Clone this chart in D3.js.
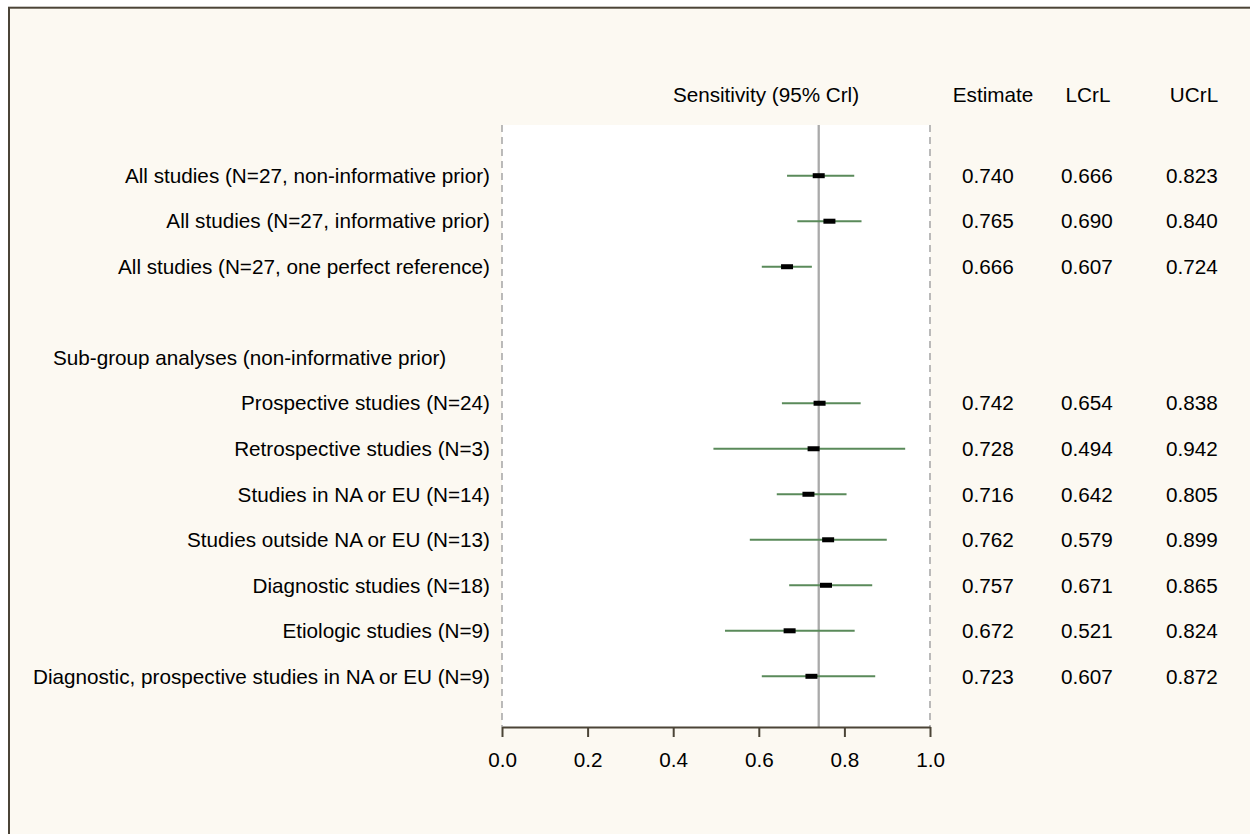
<!DOCTYPE html>
<html>
<head>
<meta charset="utf-8">
<script src="https://cdn.jsdelivr.net/npm/d3@7"></script>
<style>
  body { margin: 0; background: #ffffff; }
  svg { display: block; font-family: "Liberation Sans", Arial, sans-serif; }
</style>
</head>
<body>
<div id="chart"></div>
<script>
// study groups, top to bottom (row index = position in the forest plot)
const labels = [
  "All studies (N=27, non-informative prior)",
  "All studies (N=27, informative prior)",
  "All studies (N=27, one perfect reference)",
  "Prospective studies (N=24)",
  "Retrospective studies (N=3)",
  "Studies in NA or EU (N=14)",
  "Studies outside NA or EU (N=13)",
  "Diagnostic studies (N=18)",
  "Etiologic studies (N=9)",
  "Diagnostic, prospective studies in NA or EU (N=9)"
];
const rows = [0, 1, 2, 5, 6, 7, 8, 9, 10, 11];
const estimate = [0.740, 0.765, 0.666, 0.742, 0.728, 0.716, 0.762, 0.757, 0.672, 0.723];
const lcrl = [0.666, 0.690, 0.607, 0.654, 0.494, 0.642, 0.579, 0.671, 0.521, 0.607];
const ucrl = [0.823, 0.840, 0.724, 0.838, 0.942, 0.805, 0.899, 0.865, 0.824, 0.872];
const subgroupTitle = { row: 4, text: "Sub-group analyses (non-informative prior)" };
const xTicks = [0, 0.2, 0.4, 0.6, 0.8, 1.0];
const refValue = 0.740;
const colHeaders = ["Estimate", "LCrL", "UCrL"];

const W = 1250, H = 834;
const plot = { left: 502, right: 930, top: 125, bottom: 727 };
const fs = 20.7;

const svg = d3.select("#chart").append("svg")
  .attr("width", W).attr("height", H);

// outer frame
svg.append("rect")
  .attr("x", 9).attr("y", 7.7)
  .attr("width", W + 20).attr("height", H + 20)
  .attr("fill", "#fcf9f2")
  .attr("stroke", "#4b4437").attr("stroke-width", 2);

const x = d3.scaleLinear().domain([0, 1]).range([plot.left, plot.right]);
const y = d3.scaleLinear().domain([0, 11]).range([175.7, 676.3]);

// plot region
svg.append("rect")
  .attr("x", plot.left).attr("y", plot.top)
  .attr("width", plot.right - plot.left).attr("height", plot.bottom - plot.top)
  .attr("fill", "#ffffff");

// dashed bounds at 0 and 1
svg.selectAll(".bound").data([0, 1]).join("line")
  .attr("class", "bound")
  .attr("x1", d => x(d)).attr("x2", d => x(d))
  .attr("y1", plot.top).attr("y2", plot.bottom)
  .attr("stroke", "#aaaaaa").attr("stroke-width", 1.6)
  .attr("stroke-dasharray", "7,5");

// reference line at pooled estimate
svg.append("line")
  .attr("x1", x(refValue)).attr("x2", x(refValue))
  .attr("y1", plot.top).attr("y2", plot.bottom)
  .attr("stroke", "#aaaaaa").attr("stroke-width", 2.3);

const data = labels.map((l, i) => ({
  label: l, row: rows[i], est: estimate[i], lo: lcrl[i], hi: ucrl[i]
}));

// credible intervals
svg.selectAll(".ci").data(data).join("line")
  .attr("class", "ci")
  .attr("x1", d => x(d.lo)).attr("x2", d => x(d.hi))
  .attr("y1", d => y(d.row)).attr("y2", d => y(d.row))
  .attr("stroke", "#5a8a5a").attr("stroke-width", 2);

// point estimates
const bw = 12, bh = 5;
svg.selectAll(".est").data(data).join("rect")
  .attr("class", "est")
  .attr("x", d => x(d.est) - bw / 2).attr("y", d => y(d.row) - bh / 2)
  .attr("width", bw).attr("height", bh)
  .attr("fill", "#000000");

// axis
const axisG = svg.append("g")
  .attr("transform", `translate(0,${plot.bottom})`)
  .call(d3.axisBottom(x).tickValues(xTicks).tickFormat(d3.format(".1f"))
    .tickSize(10).tickSizeOuter(0).tickPadding(15));
axisG.select(".domain").attr("stroke", "#4b4437").attr("stroke-width", 2);
axisG.selectAll(".tick line").attr("stroke", "#4b4437").attr("stroke-width", 2);
axisG.selectAll(".tick text")
  .attr("font-family", "Liberation Sans, Arial, sans-serif")
  .attr("font-size", fs).attr("fill", "#000");

// row labels
svg.selectAll(".label").data(data).join("text")
  .attr("class", "label")
  .attr("x", 490).attr("y", d => y(d.row))
  .attr("dy", "0.35em").attr("text-anchor", "end")
  .attr("font-size", fs).attr("fill", "#000")
  .text(d => d.label);

svg.append("text")
  .attr("x", 53).attr("y", y(subgroupTitle.row))
  .attr("dy", "0.35em").attr("font-size", fs).attr("fill", "#000")
  .text(subgroupTitle.text);

// column headers
svg.append("text")
  .attr("x", 766).attr("y", 95).attr("dy", "0.35em")
  .attr("text-anchor", "middle").attr("font-size", fs)
  .text("Sensitivity (95% Crl)");

const headerX = [993, 1088, 1194];
const valueX = [988, 1087, 1192];
svg.selectAll(".colhead").data(colHeaders).join("text")
  .attr("class", "colhead")
  .attr("x", (d, i) => headerX[i]).attr("y", 95).attr("dy", "0.35em")
  .attr("text-anchor", "middle").attr("font-size", fs)
  .text(d => d);

const fmt = d3.format(".3f");
[estimate, lcrl, ucrl].forEach((col, c) => {
  svg.selectAll(".val" + c).data(data).join("text")
    .attr("class", "val" + c)
    .attr("x", valueX[c]).attr("y", d => y(d.row)).attr("dy", "0.35em")
    .attr("text-anchor", "middle").attr("font-size", fs)
    .text((d, i) => fmt(col[i]));
});
</script>
</body>
</html>
